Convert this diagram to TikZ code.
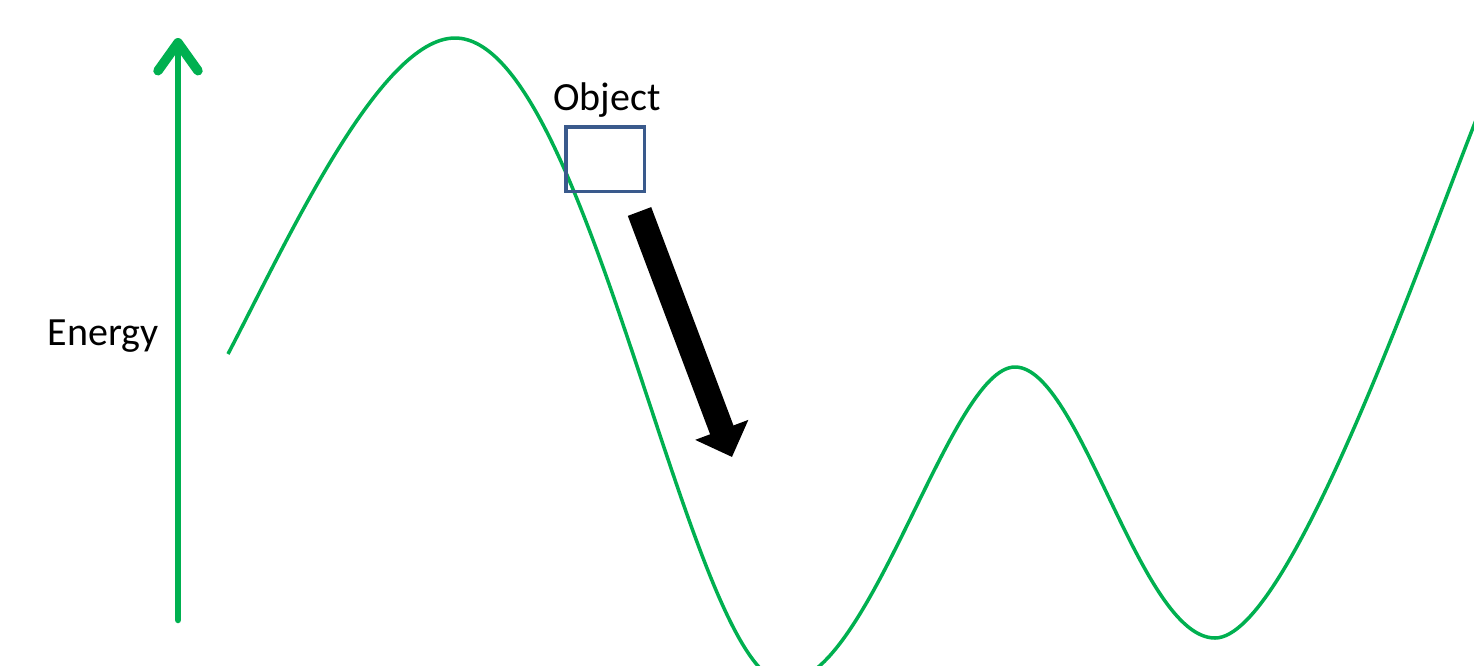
\documentclass[tikz,border=0pt]{standalone}
\usepackage{fontspec}
\setmainfont{Carlito}
\usetikzlibrary{arrows.meta}
\definecolor{curvegreen}{HTML}{00B050}
\definecolor{boxblue}{HTML}{3A5A8C}
\tikzset{
  axisarrow/.style={draw=curvegreen, line width=6.5pt, line cap=round,
    -{Straight Barb[length=28pt,width=40pt,line width=9.5pt 0,line cap=round,line join=round]}},
  energycurve/.style={draw=curvegreen, line width=3.5pt},
  objbox/.style={draw=boxblue, line width=3.5pt, minimum width=78.5pt, minimum height=64.5pt, inner sep=0pt},
  bigarrow/.style={draw=black, line width=25pt, -{Triangle[width=55pt,length=29pt]}},
  lbl/.style={font=\fontsize{40}{48}\selectfont, inner sep=0pt, anchor=base}
}
\begin{document}
\begin{tikzpicture}[x=1pt,y=-1pt]
\useasboundingbox (0,0) rectangle (1474,665);
\begin{scope}
\clip (0,0) rectangle (1474,665);
\draw[energycurve] (228,354) .. controls (288,239) and (380,38) .. (455,38)
  .. controls (590,38) and (690,682) .. (785,682)
  .. controls (870,682) and (950,367) .. (1015,367)
  .. controls (1080,367) and (1140,638) .. (1215,638)
  .. controls (1290,638) and (1424,250) .. (1478,115);
\end{scope}
\coordinate (ybot) at (178,620);
\coordinate (ytop) at (178,38);
\draw[axisarrow] (ybot) -- (ytop);
\node[lbl] (energy) at (103,345) {Energy};
\node[objbox] (obj) at (605,159) {};
\node[lbl] (objlbl) at (607,110) {Object};
\coordinate (mstart) at (639.5,211.5);
\coordinate (mend) at (732,457);
\draw[bigarrow] (mstart) -- (mend);
\end{tikzpicture}
\end{document}
